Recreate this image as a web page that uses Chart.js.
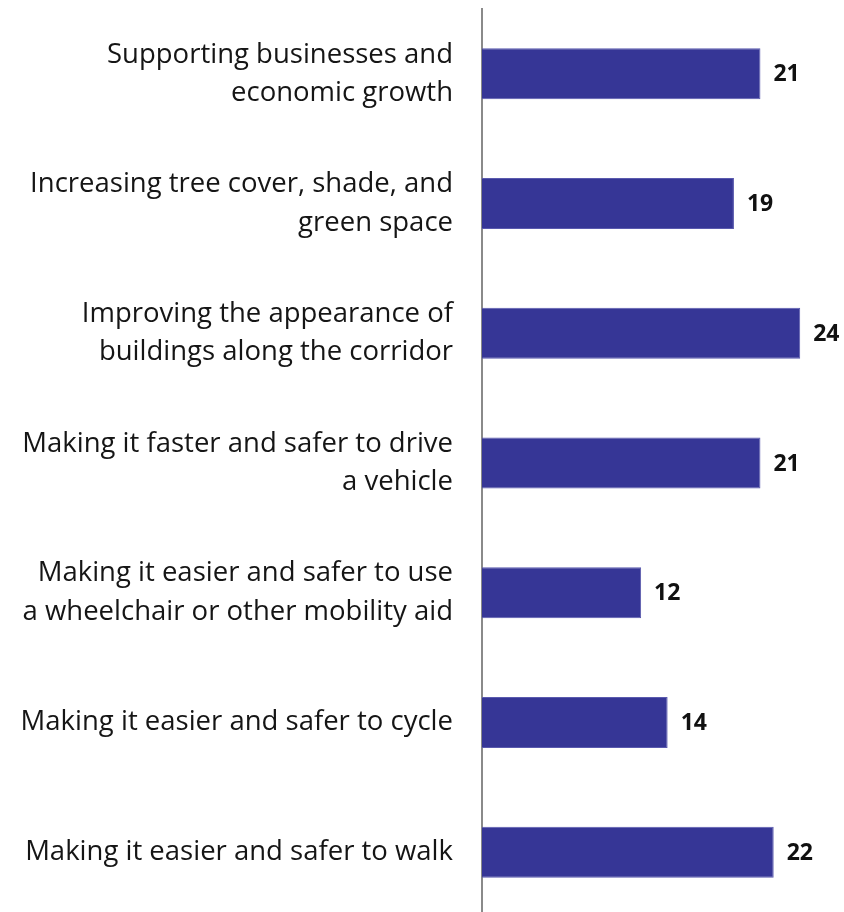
<!DOCTYPE html>
<html>
<head>
<meta charset="utf-8">
<script src="https://cdn.jsdelivr.net/npm/chart.js@4"></script>
<style>
  html, body { margin: 0; padding: 0; background: #fff; overflow: hidden; }
  #wrap { width: 844px; height: 920px; }
</style>
</head>
<body>
<div id="wrap"><canvas id="prioritiesChart"></canvas></div>
<script>
const categories = [
  ['Supporting businesses and', 'economic growth'],
  ['Increasing tree cover, shade, and', 'green space'],
  ['Improving the appearance of', 'buildings along the corridor'],
  ['Making it faster and safer to drive', 'a vehicle'],
  ['Making it easier and safer to use', 'a wheelchair or other mobility aid'],
  'Making it easier and safer to cycle',
  'Making it easier and safer to walk'
];
const values = [21, 19, 24, 21, 12, 14, 22];

// value labels at the end of each bar (no datalabels plugin available)
const valueLabels = {
  id: 'valueLabels',
  afterDatasetsDraw(chart) {
    const ctx = chart.ctx;
    const meta = chart.getDatasetMeta(0);
    ctx.save();
    ctx.font = 'bold 23px "Open Sans"';
    ctx.fillStyle = '#111';
    ctx.textAlign = 'left';
    ctx.textBaseline = 'middle';
    meta.data.forEach((bar, i) => {
      ctx.fillText(values[i], bar.x + 13, bar.y + 1);
    });
    ctx.restore();
  }
};

const ctx = document.getElementById('prioritiesChart').getContext('2d');
new Chart(ctx, {
  type: 'bar',
  data: {
    labels: categories,
    datasets: [{
      data: values,
      backgroundColor: '#363696',
      borderColor: '#5a5aae',
      borderWidth: 1,
      barPercentage: 0.393,
      categoryPercentage: 1
    }]
  },
  options: {
    indexAxis: 'y',
    responsive: true,
    maintainAspectRatio: false,
    animation: false,
    layout: { padding: { top: 9, bottom: 3, left: 0, right: 4 } },
    plugins: {
      legend: { display: false },
      tooltip: { enabled: false }
    },
    scales: {
      x: {
        display: false,
        min: 0,
        max: 27
      },
      y: {
        grid: { display: false, drawTicks: false },
        border: { display: true, color: '#8a8a8a', width: 2 },
        afterFit: (scale) => {
          scale.width = 482;
          scale.paddingTop = 0;
          scale.paddingBottom = 0;
        },
        ticks: {
          padding: 29,
          color: '#151515',
          font: { family: 'Open Sans', size: 27.5, lineHeight: 1.39 }
        }
      }
    }
  },
  plugins: [valueLabels]
});
</script>
</body>
</html>
